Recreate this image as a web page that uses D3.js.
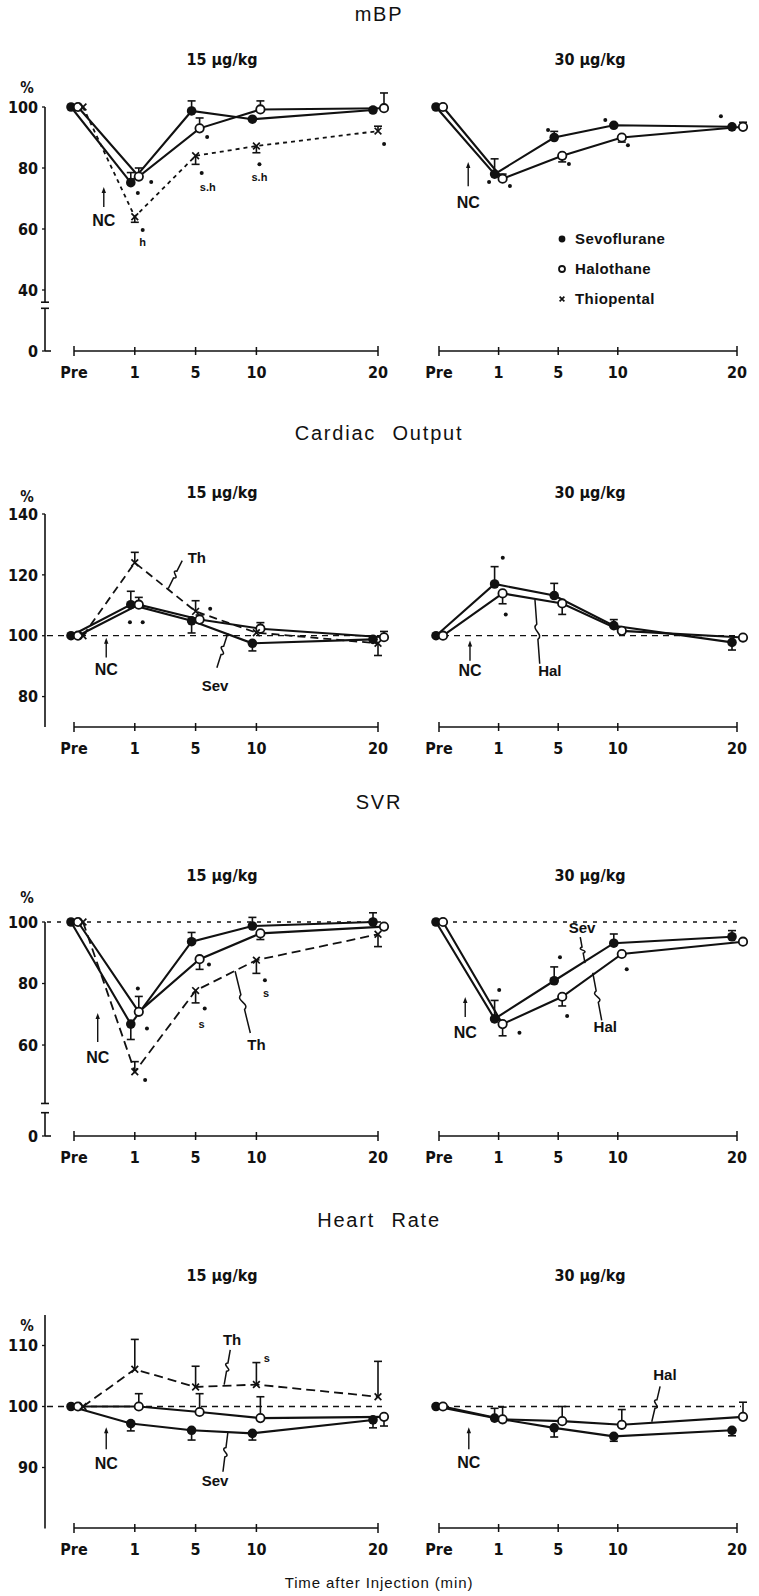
<!DOCTYPE html>
<html><head><meta charset="utf-8">
<script src="https://cdnjs.cloudflare.com/ajax/libs/d3/7.8.5/d3.min.js"></script>
<style>
body{margin:0;background:#fff;}
svg{display:block;}
</style></head><body>
<svg id="c" width="759" height="1596"></svg>
<script>
// ---------- DATA ----------
const categories = ["Pre", "1", "5", "10", "20"];
const panelTitles = ["mBP", "Cardiac Output", "SVR", "Heart Rate"];
const doseLabels = ["15 μg/kg", "30 μg/kg"];
const legendNames = ["Sevoflurane", "Halothane", "Thiopental"];
const xTitle = "Time after Injection (min)";
const yTicksMBP = [100, 80, 60, 40, 0];
const yTicksCO = [140, 120, 100, 80];
const yTicksSVR = [100, 80, 60, 0];
const yTicksHR = [110, 100, 90];

// mBP (% of pre)
const mbp15Sev = [100, 75.2, 98.7, 96.0, 99.0];
const mbp15SevErr = [0, 3.3, 3.3, 0, 0.8];
const mbp15Hal = [100, 77.2, 93.0, 99.2, 99.6];
const mbp15HalErr = [0, 2.8, 3.4, 2.8, 5.0];
const mbp15Th = [100, 64.0, 84.0, 87.2, 92.1];
const mbp15ThErr = [0, -1.8, -2.8, -2.2, 1.6];
const mbp30Sev = [100, 78.0, 90.0, 94.0, 93.5];
const mbp30SevErr = [0, 5.0, 2.0, 0, 0];
const mbp30Hal = [100, 76.5, 84.0, 90.0, 93.5];
const mbp30HalErr = [0, 1.5, -2.0, -1.5, 1.5];

// Cardiac output
const co15Sev = [100, 110.2, 104.9, 97.5, 98.8];
const co15SevErr = [0, 4.4, -4.0, -2.5, 0];
const co15Hal = [100, 110.2, 105.3, 102.3, 99.5];
const co15HalErr = [0, 2.4, 1.5, 2.0, 1.9];
const co15Th = [100, 124.0, 108.0, 101.0, 97.5];
const co15ThErr = [0, 3.4, 3.5, 0, -4.0];
const co30Sev = [100, 117.0, 113.2, 103.3, 97.8];
const co30SevErr = [0, 5.7, 4.0, 2.0, -2.5];
const co30Hal = [100, 113.9, 110.6, 101.6, 99.4];
const co30HalErr = [0, -3.4, -3.6, 0, 0];

// SVR
const svr15Sev = [100, 66.8, 93.6, 98.7, 100.0];
const svr15SevErr = [0, -5.0, 3.0, 2.8, 3.0];
const svr15Hal = [100, 70.8, 87.9, 96.3, 98.5];
const svr15HalErr = [0, 5.0, -3.3, -2.0, 0];
const svr15Th = [100, 51.3, 77.7, 87.6, 96.0];
const svr15ThErr = [0, 3.3, -4.0, -4.3, -4.0];
const svr30Sev = [100, 68.5, 80.9, 93.1, 95.2];
const svr30SevErr = [0, 6.0, 4.5, 3.0, 2.0];
const svr30Hal = [100, 66.8, 75.7, 89.6, 93.6];
const svr30HalErr = [0, -3.8, -3.0, 0, 0];

// Heart rate
const hr15Sev = [100, 97.2, 96.1, 95.6, 97.8];
const hr15SevErr = [0, -1.2, -1.6, -1.1, -1.3];
const hr15Hal = [100, 100.0, 99.1, 98.1, 98.3];
const hr15HalErr = [0, 2.1, 3.0, 3.5, -1.5];
const hr15Th = [100, 106.1, 103.2, 103.6, 101.6];
const hr15ThErr = [0, 4.9, 3.4, 3.6, 5.8];
const hr30Sev = [100, 98.1, 96.5, 95.1, 96.1];
const hr30SevErr = [0, 1.6, -1.5, -0.8, -0.9];
const hr30Hal = [100, 97.9, 97.6, 97.0, 98.3];
const hr30HalErr = [0, 2.0, 2.4, 2.5, 2.4];

// significance marks: [time slot, value, mark]
const mbp15Sig = [[1.27,75.4,"•"],[1.05,71.8,"•"],[1.13,59.7,"•"],[1.13,55.6,"h"],[2.19,90.2,"•"],[2.1,78.4,"•"],[2.2,73.6,"s.h"],[3.05,81.2,"•"],[3.05,77.0,"s.h"],[5.1,87.9,"•"]];
const mbp30Sig = [[0.84,75.4,"•"],[1.19,74.1,"•"],[1.83,92.5,"•"],[2.18,81.3,"•"],[2.79,95.7,"•"],[3.17,87.5,"•"],[4.73,97.0,"•"]];
const co15Sig = [[0.92,104.4,"•"],[1.13,104.4,"•"],[2.24,108.9,"•"]];
const co30Sig = [[1.07,125.6,"•"],[1.12,107.0,"•"]];
const svr15Sig = [[1.05,78.4,"•"],[1.2,65.4,"•"],[1.17,48.6,"•"],[2.22,86.2,"•"],[2.15,71.9,"•"],[2.1,66.8,"s"],[3.14,81.1,"•"],[3.16,77.0,"s"]];
const svr30Sig = [[1.01,77.9,"•"],[1.35,64.0,"•"],[2.03,88.5,"•"],[2.15,69.4,"•"],[3.15,84.6,"•"]];
const hr15Sig = [[3.17,108.0,"s"]];
const hr30Sig = [];

// series labels: [text, slot, value, leader from slot, value, leader to slot, value]
const co15Labels = [["Th",2.02,125.7,1.78,124.7,1.55,115.5],["Sev",2.32,83.5,2.35,89.5,2.53,100.8]];
const co30Labels = [["Hal",1.86,88.5,1.69,90.8,1.61,111.8]];
const svr15Labels = [["Th",3.0,60.3,2.9,63.9,2.65,84.0]];
const svr30Labels = [["Sev",2.4,98.3,2.37,95.1,2.45,86.6],["Hal",2.79,66.0,2.73,68.0,2.58,83.5]];
const hr15Labels = [["Th",2.6,111.0,2.57,109.3,2.47,103.6],["Sev",2.32,87.8,2.45,89.3,2.53,95.7]];
const hr30Labels = [["Hal",3.79,105.2,3.71,103.3,3.57,97.5]];

// NC arrows: [slot, tip value, tail value, text value]
const mbp15NC = [0.49, 73.8, 67.2, 63.0];
const mbp30NC = [0.49, 82.0, 74.0, 68.9];
const co15NC = [0.53, 99.3, 92.8, 89.1];
const co30NC = [0.52, 98.4, 91.8, 88.5];
const svr15NC = [0.39, 70.4, 61.0, 56.1];
const svr30NC = [0.44, 75.6, 69.1, 64.2];
const hr15NC = [0.53, 96.6, 93.0, 90.7];
const hr30NC = [0.50, 96.6, 93.0, 90.8];

// ---------- DRAWING ----------
const ink = "#111";
const svg = d3.select("#c");
const narrow = "'Liberation Sans Narrow','DejaVu Sans Condensed','Liberation Sans',sans-serif";
const sans = "'Liberation Sans',Arial,sans-serif";
const slot = {"Pre":0,"1":1,"5":2,"10":3,"20":5};
const xL = d3.scaleLinear().domain([0,5]).range([74,378]);
const xR = d3.scaleLinear().domain([0,5]).range([439,737]);
const AXX = 45;

function off(key, i){
  if (i === 0) return key==="sev" ? -3 : key==="hal" ? 4 : 9;
  if (i === 4) return key==="sev" ? -5 : key==="hal" ? 6 : 0;
  return key==="sev" ? -4 : key==="hal" ? 4 : 0;
}

function drawYAxis(g, y, ticks, segs, pctY){
  segs.forEach(s => {
    g.append("line").attr("x1",AXX).attr("x2",AXX).attr("y1",y(s[0])).attr("y2",y(s[1]))
      .attr("stroke",ink).attr("stroke-width",1.6);
  });
  if (segs.length > 1){
    [segs[0][1], segs[1][0]].forEach(v => {
      g.append("line").attr("x1",AXX-4).attr("x2",AXX+4).attr("y1",y(v)).attr("y2",y(v))
        .attr("stroke",ink).attr("stroke-width",1.6);
    });
    const last = segs[segs.length-1][1];
    g.append("line").attr("x1",AXX).attr("x2",AXX+6).attr("y1",y(last)).attr("y2",y(last))
      .attr("stroke",ink).attr("stroke-width",1.6);
  }
  ticks.forEach(t => {
    g.append("line").attr("x1",AXX-3).attr("x2",AXX).attr("y1",y(t)).attr("y2",y(t))
      .attr("stroke",ink).attr("stroke-width",1.3);
    g.append("text").attr("x",AXX-7).attr("y",y(t)).attr("dy","0.36em").attr("text-anchor","end")
      .attr("font-family",narrow).attr("font-weight","bold").attr("font-size",16).attr("fill",ink).text(t);
  });
  g.append("text").attr("x",27).attr("y",pctY).attr("dy","0.36em").attr("text-anchor","middle")
    .attr("font-family",narrow).attr("font-weight","bold").attr("font-size",15).attr("fill",ink).text("%");
}

function drawXAxis(g, x, ay){
  g.append("line").attr("x1",x(0)).attr("x2",x(5)).attr("y1",ay).attr("y2",ay)
    .attr("stroke",ink).attr("stroke-width",1.6);
  categories.forEach((c,i) => {
    const xx = x(slot[c]);
    const h = (i===0 || i===categories.length-1) ? 5 : 4;
    g.append("line").attr("x1",xx).attr("x2",xx).attr("y1",ay-h).attr("y2",ay+h)
      .attr("stroke",ink).attr("stroke-width",1.5);
    g.append("text").attr("x",xx).attr("y",ay+27).attr("text-anchor","middle")
      .attr("font-family",narrow).attr("font-weight","bold").attr("font-size",16).attr("fill",ink).text(c);
  });
}

function marker(g, key, cx, cy, r){
  if (key === "sev"){
    g.append("circle").attr("cx",cx).attr("cy",cy).attr("r",r).attr("fill",ink);
  } else if (key === "hal"){
    g.append("circle").attr("cx",cx).attr("cy",cy).attr("r",r-0.6).attr("fill","#fff")
      .attr("stroke",ink).attr("stroke-width",1.8);
  } else {
    const s = r*0.7;
    g.append("path").attr("d",`M${cx-s},${cy-s}L${cx+s},${cy+s}M${cx+s},${cy-s}L${cx-s},${cy+s}`)
      .attr("stroke",ink).attr("stroke-width",1.7).attr("fill","none");
  }
}

function leader(g, p1, p2){
  const dx = p2[0]-p1[0], dy = p2[1]-p1[1];
  const L = Math.hypot(dx,dy) || 1;
  const nx = -dy/L, ny = dx/L;
  const at = t => [p1[0]+dx*t, p1[1]+dy*t];
  const a = at(0.38), b = at(0.62), c1 = at(0.45), c2 = at(0.55);
  const d = `M${p1[0]},${p1[1]}L${a[0]},${a[1]}C${c1[0]+nx*7},${c1[1]+ny*7} ${c2[0]-nx*7},${c2[1]-ny*7} ${b[0]},${b[1]}L${p2[0]},${p2[1]}`;
  g.append("path").attr("d",d).attr("fill","none").attr("stroke",ink).attr("stroke-width",1.5);
}

function drawPanel(g, x, y, p){
  if (p.ref){
    g.append("line").attr("x1",p.refStart).attr("x2",x(5)+4).attr("y1",y(100)).attr("y2",y(100))
      .attr("stroke",ink).attr("stroke-width",1.3).attr("stroke-dasharray",p.refDash);
  }
  p.series.forEach(s => {
    const pts = s.vals.map((v,i) => [x(slot[categories[i]]) + off(s.key,i), y(v)]);
    g.append("path").attr("d",d3.line()(pts)).attr("fill","none").attr("stroke",ink)
      .attr("stroke-width", s.key==="th" ? 1.8 : 2.1)
      .attr("stroke-dasharray", s.key==="th" ? p.thDash : null);
  });
  p.series.forEach(s => {
    s.vals.forEach((v,i) => {
      const e = s.err[i];
      if (!e) return;
      const cx = x(slot[categories[i]]) + off(s.key,i);
      const y0 = y(v), y1 = y(v+e);
      g.append("line").attr("x1",cx).attr("x2",cx).attr("y1",y0).attr("y2",y1).attr("stroke",ink).attr("stroke-width",1.6);
      g.append("line").attr("x1",cx-4).attr("x2",cx+4).attr("y1",y1).attr("y2",y1).attr("stroke",ink).attr("stroke-width",1.6);
    });
  });
  p.series.forEach(s => {
    s.vals.forEach((v,i) => marker(g, s.key, x(slot[categories[i]]) + off(s.key,i), y(v), 4.8));
  });
  p.sig.forEach(m => {
    if (m[2] === "•"){
      g.append("circle").attr("cx",x(m[0])).attr("cy",y(m[1])).attr("r",2).attr("fill",ink);
    } else {
      g.append("text").attr("x",x(m[0])).attr("y",y(m[1])).attr("dy","0.35em").attr("text-anchor","middle")
        .attr("font-family",sans).attr("font-weight","bold").attr("font-size",11).attr("fill",ink).text(m[2]);
    }
  });
  p.labels.forEach(l => {
    g.append("text").attr("x",x(l[1])).attr("y",y(l[2])).attr("dy","0.36em").attr("text-anchor","middle")
      .attr("font-family",sans).attr("font-weight","bold").attr("font-size",15).attr("fill",ink).text(l[0]);
    leader(g, [x(l[3]),y(l[4])], [x(l[5]),y(l[6])]);
  });
  const n = p.nc, nx = x(n[0]);
  g.append("line").attr("x1",nx).attr("x2",nx).attr("y1",y(n[2])).attr("y2",y(n[1])+3)
    .attr("stroke",ink).attr("stroke-width",1.4);
  g.append("path").attr("d",`M${nx},${y(n[1])}L${nx-2.2},${y(n[1])+6}L${nx+2.2},${y(n[1])+6}Z`).attr("fill",ink);
  g.append("text").attr("x",nx).attr("y",y(n[3])).attr("dy","0.36em").attr("text-anchor","middle")
    .attr("font-family",sans).attr("font-weight","bold").attr("font-size",16).attr("fill",ink).text("NC");
}

function S(key, vals, err){ return {key, vals, err}; }

const rows = [
  { title: panelTitles[0], titleY: 14, doseY: 59, pctY: 88, axisY: 351,
    y: d3.scaleLinear().domain([0,34,100]).range([351,308.3,107]),
    ticks: yTicksMBP, segs: [[100,36],[34,0]], ref: false, thDash: "4,4",
    left: { series:[S("sev",mbp15Sev,mbp15SevErr),S("hal",mbp15Hal,mbp15HalErr),S("th",mbp15Th,mbp15ThErr)], sig: mbp15Sig, labels: [], nc: mbp15NC },
    right:{ series:[S("sev",mbp30Sev,mbp30SevErr),S("hal",mbp30Hal,mbp30HalErr)], sig: mbp30Sig, labels: [], nc: mbp30NC },
    legend: true },
  { title: panelTitles[1], titleY: 433, doseY: 492, pctY: 497, axisY: 727,
    y: d3.scaleLinear().domain([140,70]).range([514,727]),
    ticks: yTicksCO, segs: [[140,70]], ref: true, refDash: "6,5", thDash: "8,5",
    left: { series:[S("sev",co15Sev,co15SevErr),S("hal",co15Hal,co15HalErr),S("th",co15Th,co15ThErr)], sig: co15Sig, labels: co15Labels, nc: co15NC },
    right:{ series:[S("sev",co30Sev,co30SevErr),S("hal",co30Hal,co30HalErr)], sig: co30Sig, labels: co30Labels, nc: co30NC } },
  { title: panelTitles[2], titleY: 802, doseY: 875, pctY: 898, axisY: 1136,
    y: d3.scaleLinear().domain([0,38,100]).range([1136,1112.7,922]),
    ticks: yTicksSVR, segs: [[100,41],[38,0]], ref: true, refDash: "4,6", thDash: "9,5",
    left: { series:[S("sev",svr15Sev,svr15SevErr),S("hal",svr15Hal,svr15HalErr),S("th",svr15Th,svr15ThErr)], sig: svr15Sig, labels: svr15Labels, nc: svr15NC },
    right:{ series:[S("sev",svr30Sev,svr30SevErr),S("hal",svr30Hal,svr30HalErr)], sig: svr30Sig, labels: svr30Labels, nc: svr30NC } },
  { title: panelTitles[3], titleY: 1220, doseY: 1275, pctY: 1326, axisY: 1528,
    y: d3.scaleLinear().domain([115,80]).range([1315,1528.5]),
    ticks: yTicksHR, segs: [[115,80]], ref: true, refDash: "6,5", thDash: "9,5",
    left: { series:[S("sev",hr15Sev,hr15SevErr),S("hal",hr15Hal,hr15HalErr),S("th",hr15Th,hr15ThErr)], sig: hr15Sig, labels: hr15Labels, nc: hr15NC },
    right:{ series:[S("sev",hr30Sev,hr30SevErr),S("hal",hr30Hal,hr30HalErr)], sig: hr30Sig, labels: hr30Labels, nc: hr30NC } }
];

rows.forEach(r => {
  const g = svg.append("g");
  g.append("text").attr("x",379).attr("y",r.titleY).attr("dy","0.36em").attr("text-anchor","middle")
    .attr("font-family",sans).attr("font-size",20).attr("letter-spacing",1.8).attr("word-spacing",9)
    .attr("fill",ink).text(r.title);
  [[xL,doseLabels[0]],[xR,doseLabels[1]]].forEach(([x,t]) => {
    g.append("text").attr("x",(x(0)+x(5))/2 + (x===xL?-4:2)).attr("y",r.doseY).attr("dy","0.36em").attr("text-anchor","middle")
      .attr("font-family",narrow).attr("font-weight","bold").attr("font-size",16).attr("fill",ink).text(t);
  });
  drawYAxis(g, r.y, r.ticks, r.segs, r.pctY);
  drawXAxis(g, xL, r.axisY);
  drawXAxis(g, xR, r.axisY);
  drawPanel(g, xL, r.y, Object.assign({ref:r.ref, refDash:r.refDash, refStart:AXX+2, thDash:r.thDash}, r.left));
  drawPanel(g, xR, r.y, Object.assign({ref:r.ref, refDash:r.refDash, refStart:xR(0)+4, thDash:r.thDash}, r.right));
  if (r.legend){
    const keys = ["sev","hal","th"];
    legendNames.forEach((nm,i) => {
      const ly = 239 + i*30;
      marker(g, keys[i], 562, ly, keys[i]==="hal" ? 3.6 : 3.4);
      g.append("text").attr("x",575).attr("y",ly).attr("dy","0.36em")
        .attr("font-family",sans).attr("font-weight","bold").attr("font-size",15).attr("letter-spacing",0.4)
        .attr("fill",ink).text(nm);
    });
  }
});

svg.append("text").attr("x",379).attr("y",1583).attr("dy","0.36em").attr("text-anchor","middle")
  .attr("font-family",sans).attr("font-size",15).attr("letter-spacing",0.9).attr("fill",ink).text(xTitle);
</script>
</body></html>
